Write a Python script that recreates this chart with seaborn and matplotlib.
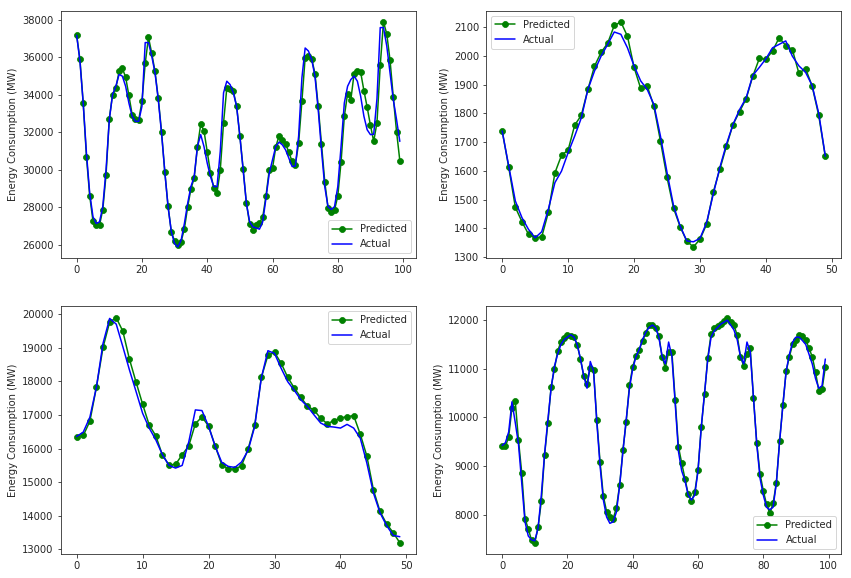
import numpy as np
import pandas as pd
import matplotlib
matplotlib.use("Agg")
import matplotlib.pyplot as plt
import seaborn as sns

# panel 1 (top-left), 100 hourly points
pred_1 = [37180, 35900, 33570, 30700, 28610, 27270, 27050, 27050, 27880, 29740,
          32730, 34020, 34360, 35250, 35410, 34950, 33970, 32950, 32710, 32660,
          33650, 35680, 37070, 36220, 35250, 33810, 32040, 29900, 28050, 26710,
          26200, 26020, 26180, 26860, 28020, 28980, 29570, 31230, 32430, 32090,
          30970, 29840, 29040, 28790, 30000, 32520, 34370, 34300, 34200, 33390,
          31820, 30060, 28230, 27110, 26790, 27040, 27180, 27480, 28610, 30000,
          30090, 31220, 31820, 31610, 31380, 30950, 30450, 30270, 31430, 33660,
          35980, 36070, 35930, 35140, 33390, 31380, 29380, 27980, 27730, 27860,
          28610, 30430, 32860, 34070, 33750, 35140, 35250, 35210, 34230, 33340,
          32380, 31520, 32520, 35570, 37890, 37250, 35860, 33880, 32040, 30500]
act_1 = [37180, 35800, 33570, 30890, 28750, 27500, 27140, 27230, 28040, 30000,
         32680, 34020, 34460, 35090, 35000, 34460, 33570, 32860, 32590, 32590,
         33390, 36790, 36790, 36070, 35180, 33750, 31960, 29910, 28040, 26700,
         26070, 25890, 26250, 27140, 28210, 29110, 29640, 31250, 31880, 31250,
         30360, 29640, 29110, 29110, 31000, 34110, 34730, 34550, 34110, 33390,
         31790, 30000, 28210, 27230, 26960, 26900, 26840, 27230, 28500, 29820,
         30540, 31250, 31480, 31340, 31070, 30630, 30180, 30200, 31800, 34900,
         36500, 36340, 35890, 35000, 33210, 31070, 29110, 28040, 27890, 28040,
         29110, 31250, 33570, 34460, 34820, 35000, 34730, 33930, 32860, 32140,
         31880, 31900, 33800, 37590, 37590, 36610, 35180, 33750, 32680, 31520]

# panel 2 (top-right), 50 points
pred_2 = [1739, 1612, 1473, 1423, 1379, 1367, 1370, 1455, 1593, 1654,
          1672, 1759, 1793, 1883, 1964, 2012, 2044, 2106, 2118, 2068,
          1960, 1887, 1895, 1825, 1704, 1577, 1469, 1405, 1355, 1335,
          1362, 1414, 1525, 1605, 1685, 1761, 1806, 1851, 1929, 1991,
          1988, 2017, 2063, 2036, 2022, 1939, 1956, 1895, 1793, 1650]
act_2 = [1739, 1616, 1495, 1437, 1396, 1367, 1388, 1466, 1559, 1599,
         1663, 1721, 1784, 1883, 1947, 1999, 2040, 2083, 2075, 2028,
         1965, 1913, 1883, 1831, 1721, 1594, 1477, 1407, 1356, 1353,
         1365, 1420, 1518, 1611, 1692, 1761, 1813, 1854, 1932, 1960,
         1990, 2028, 2040, 2052, 1999, 1965, 1943, 1897, 1800, 1651]

# panel 3 (bottom-left), 50 points
pred_3 = [16340, 16390, 16810, 17830, 19010, 19760, 19890, 19490, 18660, 17980,
          17320, 16700, 16380, 15810, 15510, 15530, 15820, 16080, 16740, 16940,
          16670, 16080, 15520, 15390, 15390, 15490, 15990, 16700, 18120, 18770,
          18860, 18540, 18120, 17800, 17520, 17260, 17140, 16900, 16740, 16830,
          16910, 16950, 16980, 16430, 15780, 14770, 14130, 13760, 13500, 13200]
act_3 = [16360, 16490, 16930, 17830, 19130, 19870, 19700, 19030, 18340, 17700,
         17050, 16610, 16260, 15820, 15500, 15420, 15500, 16200, 17150, 17130,
         16660, 16070, 15590, 15470, 15440, 15600, 15950, 16660, 18100, 18910,
         18830, 18390, 17990, 17730, 17450, 17250, 17000, 16760, 16660, 16640,
         16610, 16720, 16610, 16310, 15570, 14680, 14090, 13710, 13420, 13380]

# panel 4 (bottom-right), 100 points
pred_4 = [9416, 9402, 9600, 10200, 10340, 9530, 8855, 7910, 7710, 7470,
          7420, 7740, 8270, 9230, 9880, 10630, 10990, 11360, 11560, 11640,
          11700, 11670, 11650, 11490, 11200, 10850, 10680, 11020, 10970, 9940,
          9080, 8380, 8060, 7950, 7910, 8140, 8610, 9330, 9910, 10660,
          11040, 11270, 11390, 11580, 11730, 11910, 11910, 11840, 11680, 11250,
          11020, 11350, 11340, 10360, 9400, 9060, 8740, 8420, 8270, 8460,
          8910, 9800, 10480, 11230, 11710, 11830, 11880, 11930, 11980, 12050,
          11970, 11900, 11690, 11250, 11060, 11300, 11420, 10390, 9470, 8840,
          8490, 8210, 8030, 8230, 8650, 9520, 10250, 10950, 11250, 11510,
          11600, 11690, 11670, 11600, 11420, 11250, 10930, 10550, 10580, 11030]
act_4 = [9420, 9480, 9700, 10320, 9900, 9450, 8650, 7850, 7560, 7480,
         7460, 7720, 8400, 9250, 9950, 10600, 11050, 11300, 11500, 11600,
         11650, 11700, 11650, 11500, 11200, 10850, 10600, 11150, 10950, 9900,
         9000, 8300, 7950, 7820, 7850, 8050, 8600, 9300, 9950, 10600,
         11000, 11250, 11400, 11600, 11750, 11850, 11900, 11850, 11650, 11250,
         11100, 11550, 11250, 10300, 9300, 8900, 8700, 8400, 8300, 8400,
         8900, 9800, 10500, 11200, 11650, 11780, 11850, 11920, 11960, 12000,
         11900, 11800, 11600, 11250, 11100, 11550, 11350, 10400, 9450, 8750,
         8400, 8150, 8100, 8150, 8650, 9500, 10250, 10950, 11300, 11550,
         11650, 11650, 11580, 11500, 11300, 11100, 10800, 10600, 10650, 11200]

panels = [(pred_1, act_1, 'lower right'),
          (pred_2, act_2, 'upper left'),
          (pred_3, act_3, 'upper right'),
          (pred_4, act_4, 'lower right')]

sns.set_style("ticks")
plt.rcParams['font.size'] = 10
plt.rcParams['legend.fontsize'] = 10

fig, axes = plt.subplots(2, 2, figsize=(851 / 72, 578 / 72), dpi=72)
fig.subplots_adjust(left=0.0711, right=0.9888, top=0.9815, bottom=0.0415,
                    wspace=0.197, hspace=0.195)

for ax, (pred, act, loc) in zip(axes.flat, panels):
    df = pd.DataFrame({'x': np.arange(len(pred)), 'pred': pred, 'act': act})
    sns.lineplot(data=df, x='x', y='pred', ax=ax, color='green', marker='o',
                 markersize=6, markeredgecolor='green', label='Predicted',
                 errorbar=None)
    sns.lineplot(data=df, x='x', y='act', ax=ax, color='blue',
                 label='Actual', errorbar=None)
    ax.set_xlabel('')
    ax.set_ylabel('Energy Consumption (MW)')
    ax.legend(loc=loc)

fig.savefig('out.png', dpi=72)
